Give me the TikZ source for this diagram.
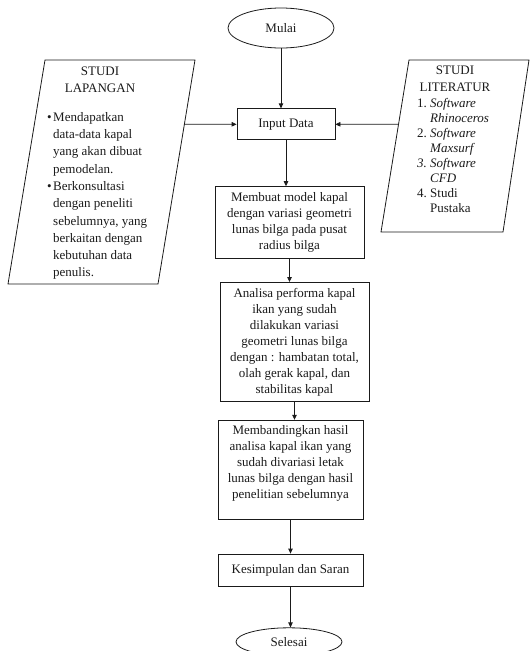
\documentclass[tikz,border=0pt]{standalone}
\usepackage{fontspec}
\setmainfont{Liberation Serif}
\usetikzlibrary{arrows.meta,positioning,shapes.geometric}
\definecolor{ink}{HTML}{1A1A1A}
\tikzset{
  terminal/.style={
    ellipse,
    draw=ink,
    line width=0.8pt,
    minimum width=106pt,
    minimum height=40pt,
    inner sep=0pt,
    text=ink,
    font=\fontsize{13}{16}\selectfont
  },
  process/.style={
    rectangle,
    draw=ink,
    line width=0.8pt,
    inner sep=3pt,
    align=center,
    text=ink,
    font=\fontsize{13}{16}\selectfont
  },
  sidehead/.style={
    align=center,
    inner sep=0pt,
    text=ink,
    font=\fontsize{13}{17}\selectfont
  },
  sidebody/.style={
    align=left,
    inner sep=0pt,
    text=ink,
    font=\fontsize{13}{17.3}\selectfont
  },
  frame/.style={
    draw=ink,
    line width=0.8pt
  },
  flow/.style={
    -{Triangle[length=5pt,width=4.5pt]},
    draw=ink,
    line width=0.8pt
  }
}
\newcommand{\bul}{\makebox[6pt][l]{\textbullet}}
\newcommand{\num}[1]{\makebox[13pt][l]{#1}}

\begin{document}
\begin{tikzpicture}[x=1pt,y=1pt]
  \useasboundingbox (0,0) rectangle (531,-651);

  % main column
  \node[terminal] (mulai) at (281,-28) {Mulai};

  \node[process, minimum width=98pt, minimum height=31pt,
        below=60pt of mulai, xshift=5pt] (input) {Input Data};

  \node[process, minimum width=149pt, minimum height=72pt,
        below=46pt of input, xshift=3.5pt] (model)
    {Membuat model kapal\\dengan variasi geometri\\lunas bilga pada pusat\\radius bilga};

  \node[process, minimum width=149pt, minimum height=119pt,
        below=23pt of model, xshift=5pt] (analisa)
    {Analisa performa kapal\\ikan yang sudah\\dilakukan variasi\\geometri lunas bilga\\dengan : hambatan total,\\olah gerak kapal, dan\\stabilitas kapal};

  \node[process, minimum width=145pt, minimum height=99pt,
        below=18pt of analisa, xshift=-4pt] (banding)
    {Membandingkan hasil\\analisa kapal ikan yang\\sudah divariasi letak\\lunas bilga dengan hasil\\penelitian sebelumnya\\\mbox{}};

  \node[process, minimum width=145pt, minimum height=32pt,
        below=34pt of banding] (simpulan) {Kesimpulan dan Saran};

  \node[terminal, minimum height=28pt,
        below=41pt of simpulan, xshift=-1.5pt] (selesai) {Selesai};

  \draw[flow] (mulai.south) -- (mulai.south |- input.north);
  \draw[flow] (input.south) -- (input.south |- model.north);
  \draw[flow] (model.south) -- (model.south |- analisa.north);
  \draw[flow] (analisa.south) -- (analisa.south |- banding.north);
  \draw[flow] (banding.south) -- (banding.south |- simpulan.north);
  \draw[flow] (simpulan.south) -- (simpulan.south |- selesai.north);

  % studi lapangan
  \coordinate (lapTL) at (45,-60);
  \coordinate (lapTR) at (195,-60);
  \coordinate (lapBR) at (158,-284);
  \coordinate (lapBL) at (8,-284);
  \draw[frame] (lapTL) -- (lapTR) -- (lapBR) -- (lapBL) -- cycle;

  \node[sidehead] (lapanganhead) at (100,-79.5) {STUDI\\LAPANGAN};
  \node[sidebody, anchor=west] (lapanganbody) at (47,-196)
    {\bul Mendapatkan\\\hspace*{6pt}data-data kapal\\\hspace*{6pt}yang akan dibuat\\\hspace*{6pt}pemodelan.\\
     \bul Berkonsultasi\\\hspace*{6pt}dengan peneliti\\\hspace*{6pt}sebelumnya, yang\\\hspace*{6pt}berkaitan dengan\\\hspace*{6pt}kebutuhan data\\\hspace*{6pt}penulis.};

  % studi literatur
  \coordinate (litTL) at (409,-60);
  \coordinate (litTR) at (529,-60);
  \coordinate (litBR) at (503,-232);
  \coordinate (litBL) at (381,-232);
  \draw[frame] (litTL) -- (litTR) -- (litBR) -- (litBL) -- cycle;

  \node[sidehead] (literaturhead) at (455,-78.5) {STUDI\\LITERATUR};
  \node[sidebody, anchor=west, font=\fontsize{13}{15}\selectfont] (literaturbody) at (417,-155.5)
    {\num{1.}\textit{Software}\\\hspace*{13pt}\textit{Rhinoceros}\\
     \num{2.}\textit{Software}\\\hspace*{13pt}\textit{Maxsurf}\\
     \num{\textit{3.}}\textit{Software}\\\hspace*{13pt}\textit{CFD}\\
     \num{4.}Studi\\\hspace*{13pt}Pustaka};

  \draw[flow] (intersection of lapTR--lapBR and input.west--input.east) -- (input.west);
  \draw[flow] (intersection of litTL--litBL and input.west--input.east) -- (input.east);
\end{tikzpicture}
\end{document}
